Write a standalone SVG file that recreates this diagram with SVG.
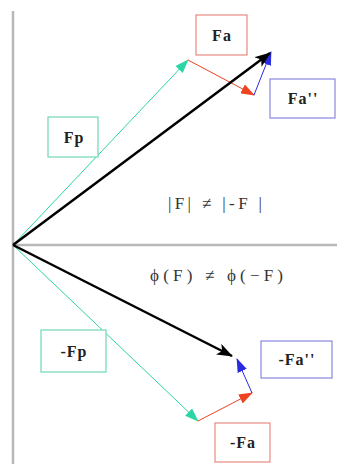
<svg xmlns="http://www.w3.org/2000/svg" width="337" height="464" viewBox="0 0 337 464">
<style>
.lbl{font-family:"Liberation Serif",serif;font-weight:bold;font-size:16px;letter-spacing:1px;fill:#222;text-anchor:middle}
.eq{font-family:"Liberation Serif",serif;font-size:17px;fill:#333}
.axis{stroke:#b8b8b8;stroke-width:2.5;fill:none}
.box{fill:#fff;stroke-width:1.2}
</style>
<defs>
<marker id="mk" markerUnits="userSpaceOnUse" markerWidth="16" markerHeight="12" refX="15" refY="6" orient="auto"><path d="M0,0 L16,6 L0,12 L4,6 Z" fill="#000"/></marker>
<marker id="mc" markerUnits="userSpaceOnUse" markerWidth="14" markerHeight="10" refX="13" refY="5" orient="auto"><path d="M0,0 L14,5 L0,10 Z" fill="#2cd5a5"/></marker>
<marker id="mr" markerUnits="userSpaceOnUse" markerWidth="14" markerHeight="10" refX="13" refY="5" orient="auto"><path d="M0,0 L14,5 L0,10 Z" fill="#ee4422"/></marker>
<marker id="mb" markerUnits="userSpaceOnUse" markerWidth="14" markerHeight="10" refX="13" refY="5" orient="auto"><path d="M0,0 L14,5 L0,10 Z" fill="#2a2ae0"/></marker>
</defs>
<g id="axes">
<line class="axis" x1="13" y1="11" x2="13" y2="464"/>
<line class="axis" x1="13" y1="245" x2="337" y2="245"/>
</g>
<g id="connectors" fill="none">
<line x1="13" y1="245" x2="188" y2="60" stroke="#2cd5a5" stroke-width="1" marker-end="url(#mc)"/>
<line x1="188" y1="60" x2="254" y2="95" stroke="#ee4422" stroke-width="1" marker-end="url(#mr)"/>
<line x1="254" y1="95" x2="271" y2="52" stroke="#2a2ae0" stroke-width="1" marker-end="url(#mb)"/>
<line x1="13" y1="245" x2="270" y2="53" stroke="#000" stroke-width="2.5" marker-end="url(#mk)"/>
<line x1="13" y1="245" x2="198" y2="421" stroke="#2cd5a5" stroke-width="1" marker-end="url(#mc)"/>
<line x1="198" y1="421" x2="252" y2="393" stroke="#ee4422" stroke-width="1" marker-end="url(#mr)"/>
<line x1="252" y1="393" x2="237" y2="359" stroke="#2a2ae0" stroke-width="1" marker-end="url(#mb)"/>
<line x1="13" y1="245" x2="232" y2="356" stroke="#000" stroke-width="2.5" marker-end="url(#mk)"/>
</g>
<g id="Fa"><rect class="box" x="196" y="15" width="51" height="40" stroke="#e88a80"/><text class="lbl" x="222" y="41">Fa</text></g>
<g id="Fa2"><rect class="box" x="270" y="79" width="65" height="39" stroke="#8888e0"/><text class="lbl" x="303" y="104">Fa''</text></g>
<g id="Fp"><rect class="box" x="48" y="117" width="50" height="40" stroke="#70d8b8"/><text class="lbl" x="74" y="143">Fp</text></g>
<g id="eq1"><text class="eq" x="168" y="209" textLength="94" lengthAdjust="spacing">|F| ≠ |-F |</text></g>
<g id="eq2"><text class="eq" x="150" y="281" textLength="133" lengthAdjust="spacing">ϕ(F) ≠ ϕ(−F)</text></g>
<g id="mFp"><rect class="box" x="41" y="330" width="65" height="42" stroke="#70d8b8"/><text class="lbl" x="74" y="357">-Fp</text></g>
<g id="mFa2"><rect class="box" x="261" y="341" width="71" height="37" stroke="#8888e0"/><text class="lbl" x="297" y="365">-Fa''</text></g>
<g id="mFa"><rect class="box" x="215" y="423" width="55" height="39" stroke="#e88a80"/><text class="lbl" x="243" y="448">-Fa</text></g>
</svg>
